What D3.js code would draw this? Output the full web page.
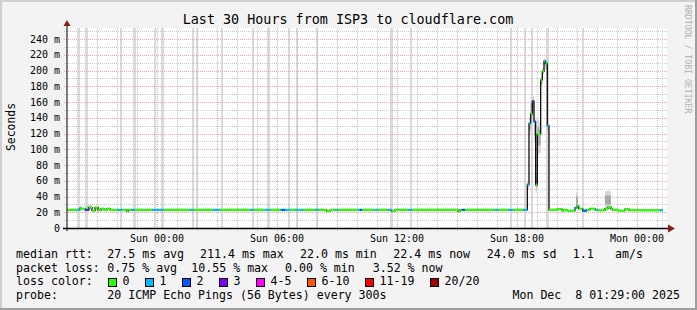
<!DOCTYPE html>
<html>
<head>
<meta charset="utf-8">
<script src="https://cdn.jsdelivr.net/npm/d3@7"></script>
<style>
  body { margin: 0; background: #f3f3f3; }
  svg { display: block; }
  text { font-family: "DejaVu Sans Mono", monospace; fill: #000; }
</style>
</head>
<body>
<svg width="697" height="310"></svg>
<script>
// ---- data (minutes counted from the left edge of the graph, Sat 19:30) ----
const title = "Last 30 Hours from ISP3 to cloudflare.com";
const yTicks = [0, 20, 40, 60, 80, 100, 120, 140, 160, 180, 200, 220, 240];
const xTickLabels = ["Sun 00:00", "Sun 06:00", "Sun 12:00", "Sun 18:00", "Mon 00:00"];

const lossLabels = ["0", "1", "2", "3", "4-5", "6-10", "11-19", "20/20"];
const lossColors = ["#26ff00", "#00b8ff", "#0059ff", "#7e00ff", "#ff00ff", "#ff5500", "#ff0000", "#a10000"];

// median rtt runs: [from, to, ms, loss level]
const medianRuns = [
  [0, 30, 23, 0], [30, 39, 23, 1], [39, 54, 24.5, 0], [54, 60, 23, 3], [60, 66, 23, 2],
  [66, 75, 26, 0], [75, 84, 22, 0], [84, 93, 26, 0], [93, 102, 22.5, 0], [102, 111, 24.5, 0],
  [111, 120, 23, 0], [120, 129, 24.5, 0], [129, 152, 23, 0], [152, 164, 23, 1], [164, 179, 23, 0],
  [179, 184, 21.5, 0], [184, 194, 23, 0], [194, 204, 23, 1], [204, 256, 23, 0], [256, 289, 23, 1],
  [289, 369, 23, 0], [369, 379, 23, 1], [379, 439, 23, 0], [439, 459, 23, 1], [459, 549, 23, 0],
  [549, 559, 23, 1], [559, 594, 23, 0], [594, 609, 23, 1], [609, 639, 23, 0], [639, 644, 23, 1],
  [644, 654, 23, 2], [654, 669, 23, 1], [669, 684, 23, 0], [684, 694, 23, 1], [694, 699, 23, 0],
  [699, 708, 23, 1], [708, 744, 23, 0], [744, 754, 23, 1], [754, 779, 23, 0], [779, 789, 21.5, 0],
  [789, 804, 23, 0], [804, 812, 23, 1], [812, 873, 23, 0], [873, 879, 23, 1], [879, 885, 23, 2],
  [885, 924, 23, 0], [924, 934, 23, 1], [934, 964, 23, 0], [964, 974, 23, 1], [974, 984, 21.5, 0],
  [984, 1024, 23, 0], [1024, 1034, 23, 1], [1034, 1173, 23, 0], [1173, 1179, 21, 0], [1179, 1184, 23, 0],
  [1184, 1194, 23, 2], [1194, 1284, 23, 0], [1284, 1294, 23, 1], [1294, 1324, 23, 0], [1324, 1337, 23, 1],
  [1337, 1369, 23, 0], [1369, 1381, 23, 1],
  [1381, 1386, 55, 1], [1386, 1391, 133, 1], [1391, 1396, 145, 0], [1396, 1401, 161, 2],
  [1401, 1406, 135, 2], [1406, 1411, 55, 0], [1411, 1421, 119, 0], [1421, 1426, 188, 0],
  [1426, 1431, 199, 0], [1431, 1436, 212, 1], [1436, 1441, 209, 0], [1441, 1446, 130, 1],
  [1446, 1470, 23, 0], [1470, 1485, 24, 0], [1485, 1491, 22, 0], [1491, 1500, 23, 0],
  [1500, 1524, 22, 0], [1524, 1530, 26, 1], [1530, 1535, 28, 0], [1535, 1547, 24.5, 0],
  [1547, 1559, 22, 2], [1559, 1569, 23, 0], [1569, 1584, 24.5, 0], [1584, 1591, 23, 1],
  [1591, 1614, 22.5, 0], [1614, 1623, 24.5, 0], [1623, 1632, 26.5, 0], [1632, 1637, 24, 0],
  [1637, 1653, 23, 0], [1653, 1674, 22, 0], [1674, 1686, 24, 0], [1686, 1779, 22.5, 0],
  [1779, 1788, 22.5, 1]
];

// smoke (spread of the pings): [from, to, low ms, high ms]
const smokeRuns = [
  [36, 45, 23, 28], [60, 75, 23, 29], [84, 96, 23, 28],
  [1381, 1386, 50, 60], [1386, 1391, 120, 140], [1391, 1396, 133, 167], [1396, 1401, 150, 167],
  [1401, 1406, 110, 140], [1406, 1411, 45, 70], [1411, 1416, 93, 140], [1416, 1421, 95, 135],
  [1421, 1426, 180, 192], [1426, 1431, 195, 203], [1431, 1436, 205, 215], [1436, 1441, 198, 212],
  [1441, 1446, 122, 135], [1527, 1533, 25, 45], [1614, 1632, 24, 47]
];

// light grey full-height columns: [minute, width in px]
const greyBars = [
  [36, 2], [56, 3], [161, 2], [201, 3], [264, 2], [284, 3], [377, 2], [389, 2], [466, 2],
  [557, 2], [604, 3], [666, 2], [689, 2], [749, 2], [973, 3], [1032, 2], [1333, 2],
  [1374, 2], [1394, 2], [1441, 3], [1549, 2], [1788, 1]
];

const legendRows = [
  ["median rtt:", "27.5 ms avg", "211.4 ms max", "22.0 ms min", "22.4 ms now", "24.0 ms sd", "1.1", "am/s"],
  ["packet loss:", "0.75 % avg", "10.55 % max", "0.00 % min", "3.52 % now"],
  ["loss color:"],
  ["probe:", "20 ICMP Echo Pings (56 Bytes) every 300s"]
];
const stamp = "Mon Dec  8 01:29:00 2025";

// ---- layout ----
const W = 697, H = 310;
const plotL = 67, plotR = 667, plotT = 28, plotB = 228;
const start = new Date(2025, 11, 6, 19, 30);
const end = new Date(2025, 11, 8, 1, 30);
const at = m => d3.timeMinute.offset(start, m);

const x = d3.scaleTime().domain([start, end]).range([plotL, plotR]);
const y = d3.scaleLinear().domain([0, 254]).range([plotB, plotT]);

const svg = d3.select("svg");

svg.append("rect").attr("width", W).attr("height", H).attr("fill", "#f3f3f3");
// bevel
svg.append("path").attr("d", `M0,${H} V0 H${W}`).attr("fill", "none")
  .attr("stroke", "#cfcfcf").attr("stroke-width", 4);
svg.append("path").attr("d", `M0,${H} H${W} V0`).attr("fill", "none")
  .attr("stroke", "#9e9e9e").attr("stroke-width", 4);

svg.append("rect").attr("x", plotL).attr("y", plotT)
  .attr("width", plotR - plotL).attr("height", plotB - plotT).attr("fill", "#fff");

// grey columns
svg.append("g").selectAll("rect")
  .data(greyBars)
  .enter().append("rect")
  .attr("x", d => Math.round(x(at(d[0]))) - 1)
  .attr("y", plotT)
  .attr("width", d => d[1])
  .attr("height", plotB - plotT)
  .attr("fill", d => d[1] > 1 ? "#dadada" : "#e6e6e6");

// grid
const grid = svg.append("g").attr("shape-rendering", "crispEdges");
const hours = x.ticks(d3.timeHour.every(1));
grid.selectAll("line.v")
  .data(hours)
  .enter().append("line")
  .attr("x1", d => Math.round(x(d)) + 0.5)
  .attr("x2", d => Math.round(x(d)) + 0.5)
  .attr("y1", plotT)
  .attr("y2", plotB + 3)
  .attr("stroke", d => d.getHours() % 3 === 0 ? "#f5a8a8" : "#c8c8c8")
  .attr("stroke-dasharray", "1,1");

const yGrid = d3.range(10, 254, 10);
grid.selectAll("line.h")
  .data(yGrid)
  .enter().append("line")
  .attr("x1", plotL - 3)
  .attr("x2", plotR)
  .attr("y1", d => Math.round(y(d)) + 0.5)
  .attr("y2", d => Math.round(y(d)) + 0.5)
  .attr("stroke", d => d % 20 === 0 ? "#f5a8a8" : "#c8c8c8")
  .attr("stroke-dasharray", "1,1");

// smoke
const smoke = svg.append("g");
smokeRuns.forEach(function(d) {
  const x0 = x(at(d[0])), x1 = x(at(d[1]));
  smoke.append("rect")
    .attr("x", x0).attr("width", x1 - x0)
    .attr("y", y(d[3])).attr("height", y(d[2]) - y(d[3]))
    .attr("fill", "#d6d6d6");
  const q = (d[3] - d[2]) * 0.25;
  smoke.append("rect")
    .attr("x", x0).attr("width", x1 - x0)
    .attr("y", y(d[3] - q)).attr("height", y(d[2] + q) - y(d[3] - q))
    .attr("fill", "#a8a8a8");
});

// median: thin dark step line, then loss coloured pieces
const stepPts = medianRuns.map(d => [d[0], d[2]]);
stepPts.push([medianRuns[medianRuns.length - 1][1], medianRuns[medianRuns.length - 1][2]]);
const stepLine = d3.line()
  .x(d => x(at(d[0])))
  .y(d => y(d[1]))
  .curve(d3.curveStepAfter);
svg.append("path")
  .attr("d", stepLine(stepPts))
  .attr("fill", "none")
  .attr("stroke", "#101010")
  .attr("stroke-width", 1.3);

svg.append("g").selectAll("line")
  .data(medianRuns)
  .enter().append("line")
  .attr("x1", d => x(at(d[0])))
  .attr("x2", d => x(at(d[1])))
  .attr("y1", d => y(d[2]))
  .attr("y2", d => y(d[2]))
  .attr("stroke", d => lossColors[d[3]])
  .attr("stroke-width", 2.2);

// axes
svg.append("line")
  .attr("x1", plotL - 4).attr("x2", plotR + 2)
  .attr("y1", plotB + 0.5).attr("y2", plotB + 0.5)
  .attr("stroke", "#000").attr("stroke-width", 1.3);
svg.append("line")
  .attr("x1", plotL).attr("x2", plotL)
  .attr("y1", plotB + 3).attr("y2", plotT - 3)
  .attr("stroke", "#000");
svg.append("path")
  .attr("d", `M${plotR + 1},${plotB - 3.5} L${plotR + 8},${plotB + 0.5} L${plotR + 1},${plotB + 4.5} Z`)
  .attr("fill", "#8c1a1a");
svg.append("path")
  .attr("d", `M${plotL - 3.5},${plotT - 2} L${plotL},${plotT - 8} L${plotL + 3.5},${plotT - 2} Z`)
  .attr("fill", "#8c1a1a");

// y labels
svg.append("g").selectAll("text")
  .data(yTicks)
  .enter().append("text")
  .attr("x", 60)
  .attr("y", d => y(d) + 3.5)
  .attr("text-anchor", "end")
  .style("font-size", "10px")
  .text(d => d === 0 ? "0" : d + " m");

// x labels
const xTicks = x.ticks(d3.timeHour.every(6));
svg.append("g").selectAll("text")
  .data(xTicks)
  .enter().append("text")
  .attr("x", d => x(d))
  .attr("y", 242)
  .attr("text-anchor", "middle")
  .style("font-size", "10px")
  .text((d, i) => xTickLabels[i]);

// titles
svg.append("text")
  .attr("x", 348).attr("y", 24)
  .attr("text-anchor", "middle")
  .style("font-size", "13.4px")
  .text(title);

svg.append("text")
  .attr("transform", "translate(15,127) rotate(-90)")
  .attr("text-anchor", "middle")
  .style("font-size", "11.4px")
  .text("Seconds");

svg.append("text")
  .attr("transform", "translate(684.5,5) rotate(90)")
  .style("font-size", "8.2px")
  .style("fill", "#b0b0b0")
  .text("RRDTOOL / TOBI OETIKER");

// legend
const rowY = [258, 271.6, 285.2, 298.8];
const colX = [
  [16, 107.3, 200, 300, 393.3, 486.7, 572.7, 615],
  [16, 107.3, 191.3, 285, 372.7],
  [16],
  [16, 107.3]
];
legendRows.forEach(function(row, r) {
  row.forEach(function(txt, c) {
    svg.append("text")
      .attr("x", colX[r][c])
      .attr("y", rowY[r])
      .attr("xml:space", "preserve")
      .style("font-size", "11.6px")
      .text(txt);
  });
});
svg.append("text")
  .attr("x", 680).attr("y", rowY[3])
  .attr("text-anchor", "end")
  .attr("xml:space", "preserve")
  .style("font-size", "11.6px")
  .text(stamp);

let bx = 108;
lossLabels.forEach(function(lbl, i) {
  svg.append("rect")
    .attr("x", bx + 0.5).attr("y", 278.5)
    .attr("width", 8).attr("height", 8)
    .attr("fill", lossColors[i])
    .attr("stroke", "#000");
  svg.append("text")
    .attr("x", bx + 14.5).attr("y", rowY[2])
    .style("font-size", "11.6px")
    .text(lbl);
  bx += 30 + lbl.length * 7;
});
</script>
</body>
</html>
